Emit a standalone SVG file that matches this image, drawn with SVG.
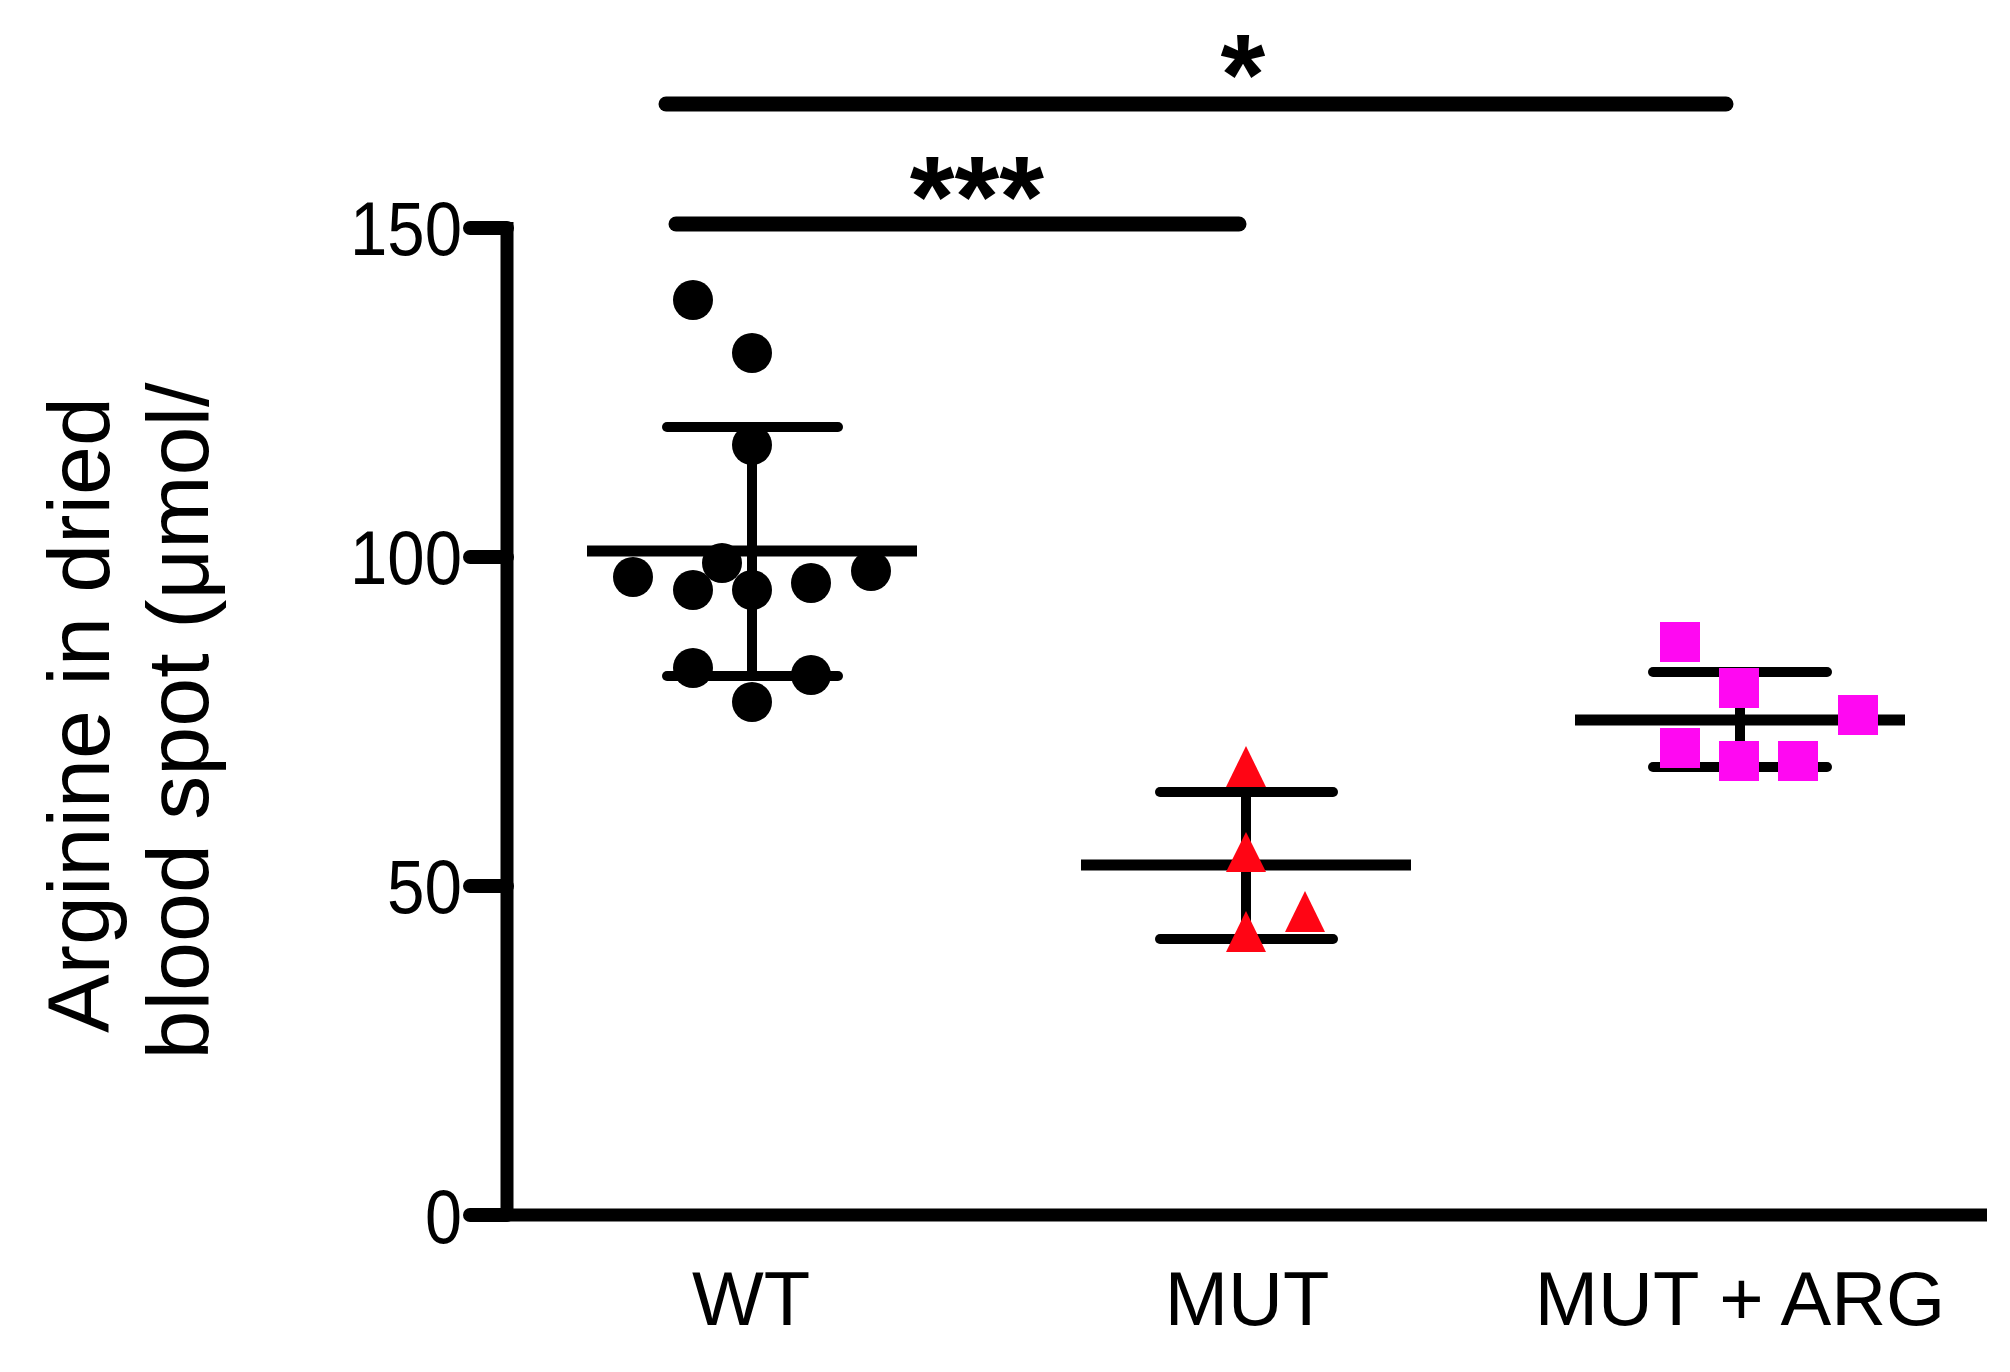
<svg xmlns="http://www.w3.org/2000/svg" width="2010" height="1372" viewBox="0 0 2010 1372">
<style>
.ax{stroke:#000;stroke-width:13;fill:none}
.tk{stroke:#000;stroke-width:14;stroke-linecap:round}
.eb{stroke:#000;stroke-width:10;stroke-linecap:round}
.mn{stroke:#000;stroke-width:11}
.sig{stroke:#000;stroke-width:15;stroke-linecap:round}
.tl{font-family:"Liberation Sans",Arial,sans-serif;font-size:76px;text-anchor:end}
.xl{font-family:"Liberation Sans",Arial,sans-serif;font-size:76px;text-anchor:middle}
.st{font-family:"Liberation Sans",Arial,sans-serif;font-size:115px;font-weight:bold;text-anchor:middle}
.yt{font-family:"Liberation Sans",Arial,sans-serif;font-size:88px;text-anchor:middle}
.wt{fill:#000}
.mu{fill:#ff0514}
.ar{fill:#ff08f2}
</style>
<rect width="2010" height="1372" fill="#fff"/>
<g id="axes">
<path class="ax" d="M507,222 V1215 H1987"/>
<line class="tk" x1="470" y1="228" x2="507" y2="228"/>
<line class="tk" x1="470" y1="557" x2="507" y2="557"/>
<line class="tk" x1="470" y1="886" x2="507" y2="886"/>
<line class="tk" x1="470" y1="1215" x2="507" y2="1215"/>
<text class="tl" x="462" y="255" textLength="112" lengthAdjust="spacingAndGlyphs">150</text>
<text class="tl" x="462" y="584" textLength="112" lengthAdjust="spacingAndGlyphs">100</text>
<text class="tl" x="462" y="913" textLength="75" lengthAdjust="spacingAndGlyphs">50</text>
<text class="tl" x="462" y="1243" textLength="37" lengthAdjust="spacingAndGlyphs">0</text>
<text class="xl" x="751" y="1325">WT</text>
<text class="xl" x="1247" y="1325">MUT</text>
<text class="xl" x="1740" y="1325">MUT + ARG</text>
<text class="yt" transform="translate(109,715) rotate(-90)">Arginine in dried</text>
<text class="yt" transform="translate(208,721) rotate(-90)">blood spot (μmol/</text>
</g>
<g id="WT">
<line class="eb" x1="752" y1="427" x2="752" y2="676"/>
<line class="eb" x1="667" y1="427" x2="838" y2="427"/>
<line class="eb" x1="667" y1="676" x2="838" y2="676"/>
<line class="mn" x1="587" y1="551" x2="917" y2="551"/>
<g class="wt">
<circle cx="693" cy="300" r="20"/><circle cx="752" cy="353" r="20"/><circle cx="752" cy="445" r="20"/>
<circle cx="633" cy="577" r="20"/><circle cx="693" cy="590" r="20"/><circle cx="722" cy="563" r="20"/>
<circle cx="752" cy="590" r="20"/><circle cx="811" cy="583" r="20"/><circle cx="871" cy="571" r="20"/>
<circle cx="693" cy="668" r="20"/><circle cx="811" cy="675" r="20"/><circle cx="752" cy="702" r="20"/>
</g>
</g>
<g id="MUT">
<line class="eb" x1="1246" y1="792" x2="1246" y2="939"/>
<line class="eb" x1="1160" y1="792" x2="1333" y2="792"/>
<line class="eb" x1="1160" y1="939" x2="1333" y2="939"/>
<line class="mn" x1="1081" y1="865" x2="1411" y2="865"/>
<g class="mu">
<polygon points="1246,746 1226,787 1266,787"/>
<polygon points="1246,832 1226,872 1266,872"/>
<polygon points="1246,911 1226,952 1266,952"/>
<polygon points="1305,891 1285,932 1325,932"/>
</g>
</g>
<g id="MUT_ARG">
<line class="eb" x1="1740" y1="672" x2="1740" y2="767"/>
<line class="eb" x1="1653" y1="672" x2="1827" y2="672"/>
<line class="eb" x1="1653" y1="767" x2="1827" y2="767"/>
<line class="mn" x1="1575" y1="720" x2="1905" y2="720"/>
<g class="ar">
<rect x="1660" y="622" width="40" height="40"/>
<rect x="1719" y="668" width="40" height="40"/>
<rect x="1838" y="695" width="40" height="40"/>
<rect x="1660" y="728" width="40" height="40"/>
<rect x="1719" y="741" width="40" height="40"/>
<rect x="1778" y="741" width="40" height="40"/>
</g>
</g>
<g id="connectors">
<line class="sig" x1="666" y1="104" x2="1726" y2="104"/>
<text class="st" x="1243" y="114">*</text>
<line class="sig" x1="676" y1="224" x2="1239" y2="224"/>
<text class="st" x="977" y="236">***</text>
</g>
</svg>
